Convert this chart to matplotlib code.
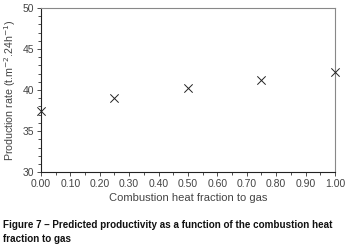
"""Predicted productivity vs combustion heat fraction to gas"""
import numpy as np
import matplotlib
matplotlib.use("Agg")
import matplotlib.pyplot as plt
from matplotlib.ticker import MultipleLocator

# data
heat_fraction = [0.00, 0.25, 0.50, 0.75, 1.00]
production_rate = [37.5, 39.0, 40.3, 41.2, 42.2]

x_ticks = np.round(np.arange(0, 1.01, 0.1), 2)
y_ticks = [30, 35, 40, 45, 50]

plt.rcParams['font.family'] = ['Liberation Sans', 'DejaVu Sans']

fig = plt.figure(figsize=(3.5, 2.52), dpi=100)
ax = fig.add_axes([0.117, 0.317, 0.840, 0.651])

ax.scatter(heat_fraction, production_rate, marker='x', s=36, color='#222222',
           linewidths=0.7, clip_on=False, zorder=3)

ax.set_xlim(0, 1)
ax.set_ylim(30, 50)
ax.set_xticks(x_ticks)
ax.set_xticklabels([f"{v:.2f}" for v in x_ticks])
ax.set_yticks(y_ticks)
ax.xaxis.set_minor_locator(MultipleLocator(0.05))
ax.yaxis.set_minor_locator(MultipleLocator(1))

ax.tick_params(which='both', direction='out', length=3, width=0.6, color='#333333',
               labelsize=7.5, labelcolor='#444444', pad=2)
ax.tick_params(which='minor', length=2.5)

for side in ['left', 'bottom']:
    ax.spines[side].set_color('#222222')
    ax.spines[side].set_linewidth(0.8)
for side in ['top', 'right']:
    ax.spines[side].set_color('#888888')
    ax.spines[side].set_linewidth(0.8)

ax.set_xlabel('Combustion heat fraction to gas', fontsize=8, color='#444444', labelpad=3)
ax.set_ylabel('Production rate (t.m$^{-2}$.24h$^{-1}$)', fontsize=7.7, color='#444444',
              labelpad=3)

caption = ("Figure 7 \u2013 Predicted productivity as a function of the combustion heat\n"
           "fraction to gas")
fig.text(0.008, 0.03, caption, fontsize=7.1, fontweight='bold', color='#111111',
         ha='left', va='bottom', linespacing=1.6)

fig.savefig('out.png', dpi=100)
